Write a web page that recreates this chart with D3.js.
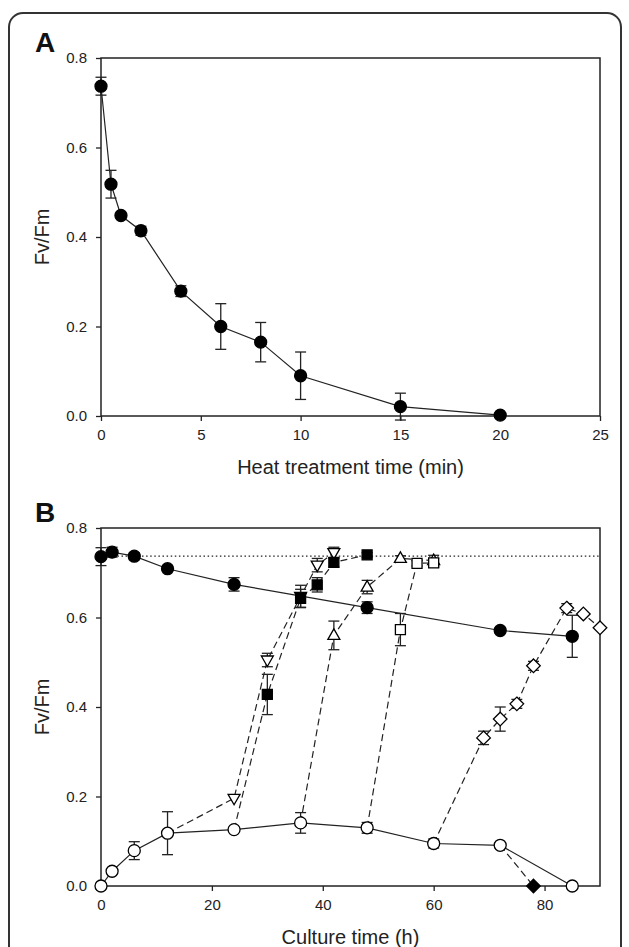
<!DOCTYPE html>
<html>
<head>
<meta charset="utf-8">
<script src="https://cdnjs.cloudflare.com/ajax/libs/d3/7.8.5/d3.min.js"></script>
<style>
	body { margin: 0; background: #fff; }
	svg text { font-family: "Liberation Sans", Arial, sans-serif; fill: #222; }
</style>
</head>
<body>
<svg id="fig" width="629" height="947"></svg>
<script>
// Panel A: heat treatment
var heatTime = [0, 0.5, 1, 2, 4, 6, 8, 10, 15, 20];
var heatFvFm = [0.737, 0.518, 0.448, 0.414, 0.279, 0.200, 0.165, 0.090, 0.021, 0.002];
var heatErr  = [0.020, 0.031, 0, 0.010, 0.012, 0.051, 0.044, 0.053, 0.030, 0];
var heatTicksX = [0, 5, 10, 15, 20, 25];
var fvTicks = [0, 0.2, 0.4, 0.6, 0.8];

// Panel B: culture time
var cultureTicksX = [0, 20, 40, 60, 80];
var controlLevel = 0.737;

var ctrlTime = [0, 2, 6, 12, 24, 48, 72, 85];
var ctrlFvFm = [0.736, 0.746, 0.737, 0.709, 0.674, 0.622, 0.571, 0.558];
var ctrlErr  = [0.020, 0.011, 0.008, 0.006, 0.015, 0.013, 0.006, 0.047];

var heatedTime = [0, 2, 6, 12, 24, 36, 48, 60, 72, 85];
var heatedFvFm = [0.0, 0.033, 0.079, 0.118, 0.126, 0.141, 0.130, 0.095, 0.091, 0.0];
var heatedErr  = [0, 0, 0.020, 0.048, 0, 0.023, 0.012, 0.010, 0.006, 0];

// recovery series, each branching off the heated curve
var fdiamBranch = 72;
var fdiamTime = [78];
var fdiamFvFm = [0.0];
var fdiamErr  = [0];

var tdownBranch = 12;
var tdownTime = [24, 30, 36, 39, 42];
var tdownFvFm = [0.196, 0.505, 0.647, 0.717, 0.745];
var tdownErr  = [0, 0.015, 0.025, 0.015, 0.012];

var fsqBranch = 24;
var fsqTime = [30, 36, 39, 42, 48];
var fsqFvFm = [0.428, 0.643, 0.673, 0.723, 0.740];
var fsqErr  = [0.045, 0.020, 0.016, 0.010, 0.005];

var tupBranch = 36;
var tupTime = [42, 48, 54, 60];
var tupFvFm = [0.560, 0.668, 0.732, 0.727];
var tupErr  = [0.032, 0.015, 0.006, 0.012];

var osqBranch = 48;
var osqTime = [54, 57, 60];
var osqFvFm = [0.573, 0.721, 0.722];
var osqErr  = [0.036, 0.006, 0.010];

var odiamBranch = 60;
var odiamTime = [69, 72, 75, 78, 84, 87, 90];
var odiamFvFm = [0.331, 0.373, 0.407, 0.492, 0.621, 0.608, 0.577];
var odiamErr  = [0.015, 0.027, 0.010, 0.010, 0.010, 0, 0];

var ink = '#222';
var svg = d3.select('#fig');

// outer rounded frame, open at the bottom
svg.append('rect')
	.attr('x', 9).attr('y', 13)
	.attr('width', 612).attr('height', 980)
	.attr('rx', 14).attr('ry', 14)
	.attr('fill', 'none').attr('stroke', '#333').attr('stroke-width', 2);

function zip(xs, ys, es) {
	return xs.map(function (x, i) { return {x: x, y: ys[i], e: es ? es[i] : 0}; });
}

function shapePath(shape) {
	var r = 6;
	if (shape === 'circle') return 'M' + r + ',0A' + r + ',' + r + ' 0 1 1 ' + (-r) + ',0A' + r + ',' + r + ' 0 1 1 ' + r + ',0Z';
	if (shape === 'square') return 'M-5,-5H5V5H-5Z';
	if (shape === 'tup') return 'M0,-6.5L6,4L-6,4Z';
	if (shape === 'tdown') return 'M0,6.5L6,-4L-6,-4Z';
	if (shape === 'diamond') return 'M0,-6.8L6.8,0L0,6.8L-6.8,0Z';
}

function panel(opts) {
	var g = svg.append('g');
	var x = opts.x, y = opts.y;

	g.append('g')
		.attr('transform', 'translate(0,' + y.range()[0] + ')')
		.call(d3.axisBottom(x).tickValues(opts.xTicks).tickSize(5).tickPadding(8).tickFormat(d3.format('d')))
		.call(styleAxis);

	g.append('g')
		.attr('transform', 'translate(' + x.range()[0] + ',0)')
		.call(d3.axisLeft(y).tickValues(fvTicks).tickSize(5).tickPadding(9).tickFormat(d3.format('.1f')))
		.call(styleAxis);

	g.append('rect')
		.attr('x', x.range()[0]).attr('y', y.range()[1])
		.attr('width', x.range()[1] - x.range()[0])
		.attr('height', y.range()[0] - y.range()[1])
		.attr('fill', 'none').attr('stroke', ink).attr('stroke-width', 1.5);

	g.append('text')
		.attr('x', 35).attr('y', y.range()[1] - 6)
		.style('font-size', '28px').style('font-weight', 'bold').style('fill', '#111')
		.text(opts.label);

	g.append('text')
		.attr('transform', 'translate(49,' + (y.range()[0] + y.range()[1]) / 2 + ') rotate(-90)')
		.attr('text-anchor', 'middle')
		.style('font-size', '20px')
		.text('Fv/Fm');

	g.append('text')
		.attr('x', (x.range()[0] + x.range()[1]) / 2)
		.attr('y', y.range()[0] + 58)
		.attr('text-anchor', 'middle')
		.style('font-size', '20px')
		.text(opts.xTitle);

	return g;
}

function styleAxis(sel) {
	sel.select('.domain').remove();
	sel.selectAll('.tick line').attr('stroke', ink).attr('stroke-width', 1.3);
	sel.selectAll('.tick text')
		.style('font-size', '15px')
		.style('font-family', '"Liberation Sans", Arial, sans-serif')
		.attr('fill', '#333');
}

function drawSeries(g, x, y, s) {
	var line = d3.line().x(function (d) { return x(d.x); }).y(function (d) { return y(d.y); });
	var pts = s.points;
	var linePts = s.branch != null ? [s.branch].concat(pts) : pts;

	s.lineSel = g.append('path')
		.datum(linePts)
		.attr('d', line)
		.attr('fill', 'none')
		.attr('stroke', ink)
		.attr('stroke-width', 1.2)
		.attr('stroke-dasharray', s.dashed ? '7,4' : null);
}

function drawErrors(g, x, y, s) {
	var bars = g.append('g').selectAll('g')
		.data(s.points.filter(function (d) { return d.e > 0; }))
		.join('g')
		.attr('stroke', ink).attr('stroke-width', 1.3);
	bars.append('line')
		.attr('x1', function (d) { return x(d.x); })
		.attr('x2', function (d) { return x(d.x); })
		.attr('y1', function (d) { return y(d.y - d.e); })
		.attr('y2', function (d) { return y(d.y + d.e); });
	[-1, 1].forEach(function (sign) {
		bars.append('line')
			.attr('x1', function (d) { return x(d.x) - 5.5; })
			.attr('x2', function (d) { return x(d.x) + 5.5; })
			.attr('y1', function (d) { return y(d.y + sign * d.e); })
			.attr('y2', function (d) { return y(d.y + sign * d.e); });
	});
}

function drawMarkers(g, x, y, s) {
	g.append('g').selectAll('path')
		.data(s.points)
		.join('path')
		.attr('transform', function (d) { return 'translate(' + x(d.x) + ',' + y(d.y) + ')'; })
		.attr('d', shapePath(s.shape))
		.attr('fill', s.filled ? '#000' : '#fff')
		.attr('stroke', '#000')
		.attr('stroke-width', 1.3);
}

// ---- Panel A
var xA = d3.scaleLinear().domain([0, 25]).range([101, 600]);
var yA = d3.scaleLinear().domain([0, 0.8]).range([416, 58]);
var gA = panel({x: xA, y: yA, xTicks: heatTicksX, label: 'A', xTitle: 'Heat treatment time (min)'});

var seriesA = {points: zip(heatTime, heatFvFm, heatErr), shape: 'circle', filled: true, dashed: false};
drawSeries(gA, xA, yA, seriesA);
drawErrors(gA, xA, yA, seriesA);
drawMarkers(gA, xA, yA, seriesA);

// ---- Panel B
var xB = d3.scaleLinear().domain([0, 90]).range([101, 600]);
var yB = d3.scaleLinear().domain([0, 0.8]).range([886, 528]);
var gB = panel({x: xB, y: yB, xTicks: cultureTicksX, label: 'B', xTitle: 'Culture time (h)'});

gB.append('line')
	.attr('x1', xB(0)).attr('x2', xB(90))
	.attr('y1', yB(controlLevel)).attr('y2', yB(controlLevel))
	.attr('stroke', ink).attr('stroke-width', 1.2)
	.attr('stroke-dasharray', '1.5,2.6');

var heatedPts = zip(heatedTime, heatedFvFm, heatedErr);
function branchAt(t) {
	return heatedPts.filter(function (d) { return d.x === t; })[0];
}

var seriesB = [
	{points: zip(ctrlTime, ctrlFvFm, ctrlErr), shape: 'circle', filled: true, dashed: false},
	{points: heatedPts, shape: 'circle', filled: false, dashed: false},
	{points: zip(fdiamTime, fdiamFvFm, fdiamErr), branch: branchAt(fdiamBranch), shape: 'diamond', filled: true, dashed: true},
	{points: zip(tdownTime, tdownFvFm, tdownErr), branch: branchAt(tdownBranch), shape: 'tdown', filled: false, dashed: true},
	{points: zip(fsqTime, fsqFvFm, fsqErr), branch: branchAt(fsqBranch), shape: 'square', filled: true, dashed: true},
	{points: zip(tupTime, tupFvFm, tupErr), branch: branchAt(tupBranch), shape: 'tup', filled: false, dashed: true},
	{points: zip(osqTime, osqFvFm, osqErr), branch: branchAt(osqBranch), shape: 'square', filled: false, dashed: true},
	{points: zip(odiamTime, odiamFvFm, odiamErr), branch: branchAt(odiamBranch), shape: 'diamond', filled: false, dashed: true}
];

seriesB.forEach(function (s) { drawSeries(gB, xB, yB, s); });
seriesB.forEach(function (s) { drawErrors(gB, xB, yB, s); drawMarkers(gB, xB, yB, s); });
</script>
</body>
</html>
